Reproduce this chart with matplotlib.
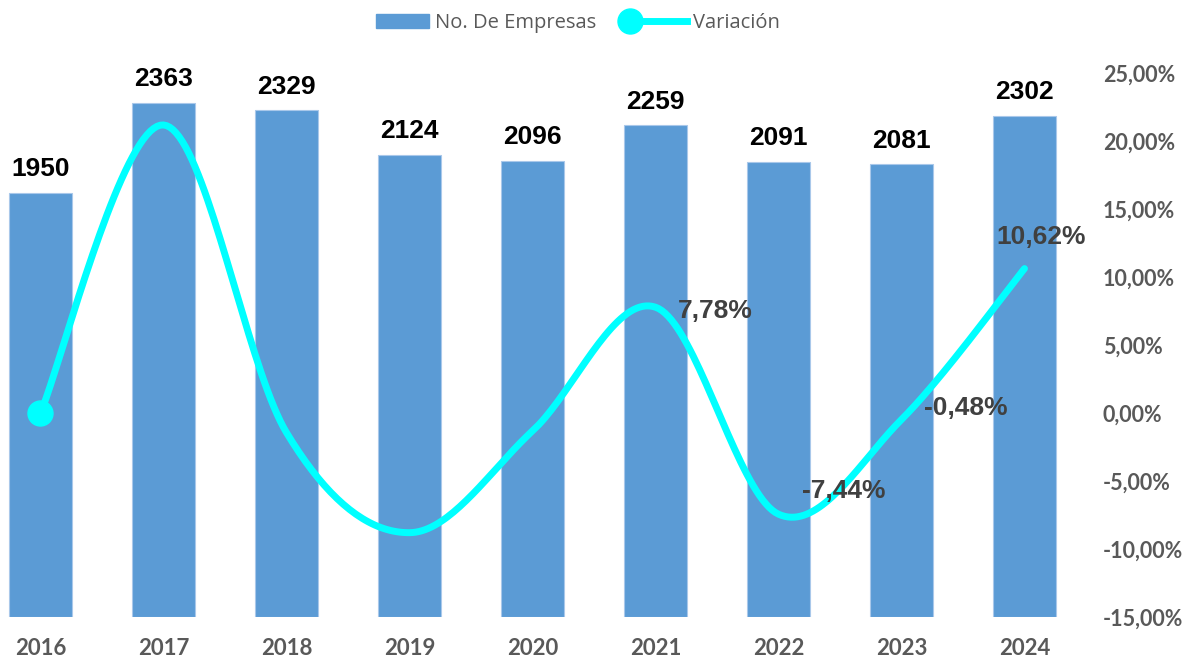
import numpy as np
import matplotlib
matplotlib.use("Agg")
import matplotlib.pyplot as plt
from matplotlib.lines import Line2D
from matplotlib.patches import Patch
from matplotlib.legend_handler import HandlerLine2D
from matplotlib.ticker import FuncFormatter

# datos
years = ["2016", "2017", "2018", "2019", "2020", "2021", "2022", "2023", "2024"]
empresas = [1950, 2363, 2329, 2124, 2096, 2259, 2091, 2081, 2302]
variacion = [0.0, 21.18, -1.44, -8.80, -1.32, 7.78, -7.44, -0.48, 10.62]
var_labels = ["", "", "", "", "", "7,78%", "-7,44%", "-0,48%", "10,62%"]

# desplazamiento de las etiquetas de la linea (puntos)
lab_off = {5: (16, -8, "left"), 6: (17, 12, "left"), 7: (16, 3, "left"), 8: (12, 18, "center")}

bar_col = "#5B9BD5"
line_col = "#00FFFF"
gris = "#595959"


def suavizar(x, y, n=40):
    # curva tipo excel (catmull-rom -> bezier)
    x = np.asarray(x, float)
    y = np.asarray(y, float)
    P = np.column_stack([x, y])
    out = []
    t = np.linspace(0, 1, n)[:, None]
    for i in range(len(P) - 1):
        p0 = P[i - 1] if i > 0 else P[i]
        p1 = P[i]
        p2 = P[i + 1]
        p3 = P[i + 2] if i + 2 < len(P) else P[i + 1]
        c1 = p1 + (p2 - p0) / 6
        c2 = p2 - (p3 - p1) / 6
        seg = (1 - t) ** 3 * p1 + 3 * (1 - t) ** 2 * t * c1 + 3 * (1 - t) * t ** 2 * c2 + t ** 3 * p2
        out.append(seg if i == 0 else seg[1:])
    s = np.vstack(out)
    return s[:, 0], s[:, 1]


class ConMarcador(HandlerLine2D):
    # marcador a la izquierda y linea hacia la derecha, como en excel
    def create_artists(self, legend, orig_handle, xdescent, ydescent, width, height, fontsize, trans):
        y = height / 2 - ydescent
        x0 = -xdescent
        linea = Line2D([x0, x0 + width], [y, y], color=line_col, lw=5, transform=trans)
        punto = Line2D([x0 - 3], [y], marker="o", ms=18, color=line_col, ls="none", transform=trans)
        return [linea, punto]


fig = plt.figure(figsize=(11.96, 6.58), dpi=100)
ax = fig.add_axes([0, 41 / 658, 1086 / 1196, 544 / 658])
x = np.arange(len(years))

ax.bar(x, empresas, width=0.51, color=bar_col, edgecolor="#A9C8EA", linewidth=0.8)
ax.set_ylim(0, 2500)
ax.set_xlim(-0.329, 8.5)
ax.set_yticks([])
for s in ax.spines.values():
    s.set_visible(False)
ax.set_xticks(x)
ax.set_xticklabels(years, fontsize=16, fontweight="bold", color=gris, family="Lato")
ax.tick_params(axis="x", length=0, pad=15)

for xi, v in zip(x, empresas):
    ax.annotate(str(v), (xi, v), xytext=(0, 12), textcoords="offset points",
                ha="center", va="baseline", fontsize=19, fontweight="bold",
                family="Liberation Sans", color="black")

ax2 = ax.twinx()
ax2.set_ylim(-15, 25)
ax2.set_yticks(np.arange(-15, 26, 5))
ax2.yaxis.set_major_formatter(FuncFormatter(lambda v, p: f"{v:.2f}%".replace(".", ",")))
for lb in ax2.get_yticklabels():
    lb.set_fontweight("bold")
    lb.set_family("Lato")
ax2.tick_params(axis="y", length=0, pad=12, labelsize=15.5, labelcolor=gris)
for s in ax2.spines.values():
    s.set_visible(False)

sx, sy = suavizar(x, variacion)
ax2.plot(sx, sy, color=line_col, lw=5, solid_capstyle="round", zorder=3)
ax2.plot(x[:1], variacion[:1], "o", color=line_col, ms=18, zorder=4)

for i, lab in enumerate(var_labels):
    if not lab:
        continue
    dx, dy, ha = lab_off[i]
    ax2.annotate(lab, (x[i], variacion[i]), xytext=(dx, dy), textcoords="offset points",
                 ha=ha, va="baseline", fontsize=19, fontweight="bold",
                 family="Liberation Sans", color="#404040", zorder=5)

h_bar = Patch(color=bar_col, label="No. De Empresas")
h_lin = Line2D([0, 1], [0, 0], color=line_col, lw=5, marker="o", ms=18, label="Variación")
fig.legend(handles=[h_bar, h_lin], loc="center", bbox_to_anchor=(578 / 1196, 1 - 23 / 658),
           ncol=2, frameon=False, handlelength=2.6, handleheight=0.7,
           columnspacing=1.9, handletextpad=0.3,
           handler_map={h_lin: ConMarcador()},
           prop={"family": "Open Sans", "size": 14.5}, labelcolor=gris)

fig.savefig("out.png", dpi=100)
